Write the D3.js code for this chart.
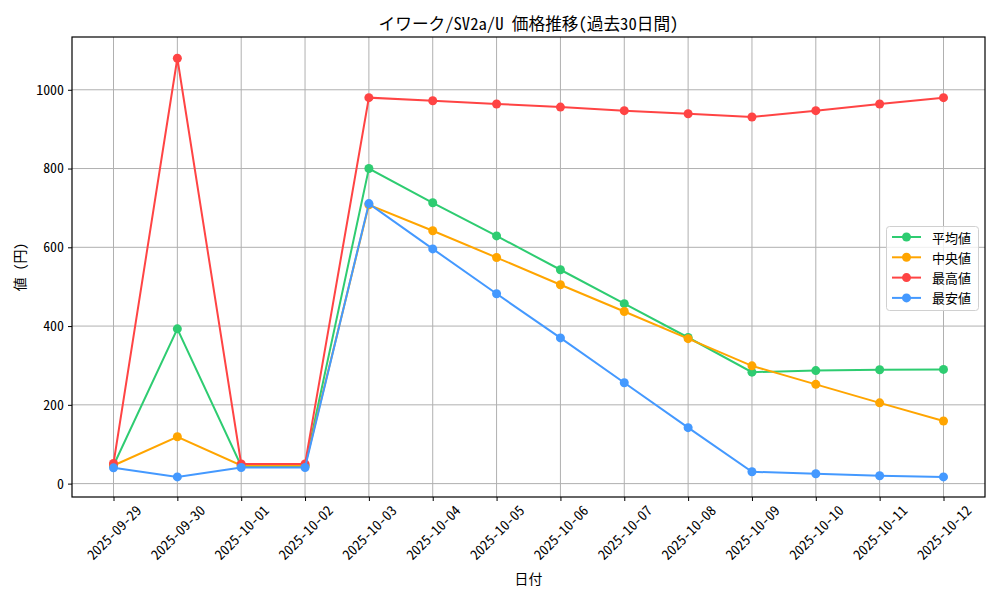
<!DOCTYPE html>
<html><head><meta charset="utf-8">
<script src="https://cdn.jsdelivr.net/npm/d3@7"></script>
<style>body{margin:0;background:#fff}svg{display:block}text{font-family:"Noto Sans Mono CJK JP","Noto Sans CJK JP","DejaVu Sans",sans-serif;fill:#000}</style>
</head><body><svg id="c" width="1000" height="600"></svg>
<script>
const dates = ["2025-09-29","2025-09-30","2025-10-01","2025-10-02","2025-10-03","2025-10-04","2025-10-05","2025-10-06","2025-10-07","2025-10-08","2025-10-09","2025-10-10","2025-10-11","2025-10-12"];
const avgValues = [46, 393, 45, 45, 800, 713, 629, 543, 457, 371, 283, 287, 289, 290];
const medianValues = [46, 119, 46, 46, 708, 642, 574, 505, 437, 368, 299, 252, 205, 159];
const maxValues = [51, 1080, 50, 50, 980, 972, 964, 956, 947, 939, 931, 947, 964, 980];
const minValues = [40, 17, 41, 41, 711, 596, 482, 370, 256, 142, 30, 25, 20, 17];
const seriesNames = ["平均値","中央値","最高値","最安値"];
const seriesColors = ["#2ecc71","#ffa500","#ff4444","#4499ff"];
const yTicks = [0,200,400,600,800,1000];
const title = "イワーク/SV2a/U 価格推移(過去30日間)";
const xLabel = "日付";
const yLabel = "値 (円)";

const series = [avgValues, medianValues, maxValues, minValues].map((v,i)=>({name:seriesNames[i], color:seriesColors[i], values:v}));

const L=72, R=985, T=37, B=497;
const svg = d3.select("#c");
const x = d3.scalePoint().domain(dates).range([L+41.5, R-41.5]);
const y = d3.scaleLinear().domain([-34, 1134]).range([B, T]);

// grid
const g = svg.append("g");
g.selectAll(".gx").data(dates).enter().append("line")
  .attr("x1",d=>x(d)).attr("x2",d=>x(d)).attr("y1",T).attr("y2",B)
  .attr("stroke","#b0b0b0").attr("stroke-width",1);
g.selectAll(".gy").data(yTicks).enter().append("line")
  .attr("x1",L).attr("x2",R).attr("y1",d=>y(d)).attr("y2",d=>y(d))
  .attr("stroke","#b0b0b0").attr("stroke-width",1);

// lines
const line = d3.line().x((d,i)=>x(dates[i])).y(d=>y(d));
series.forEach(s=>{
  svg.append("path").attr("d",line(s.values)).attr("fill","none")
    .attr("stroke",s.color).attr("stroke-width",2);
  svg.append("g").selectAll("circle").data(s.values).enter().append("circle")
    .attr("cx",(d,i)=>x(dates[i])).attr("cy",d=>y(d)).attr("r",4.5).attr("fill",s.color);
});

// frame
svg.append("rect").attr("x",L).attr("y",T).attr("width",R-L).attr("height",B-T)
  .attr("fill","none").attr("stroke","#000").attr("stroke-width",1.2);

// y axis
const ya = svg.append("g").attr("transform",`translate(${L},0)`)
  .call(d3.axisLeft(y).tickValues(yTicks).tickSize(4).tickPadding(4).tickFormat(d3.format("d")));
ya.select(".domain").remove();
ya.selectAll("text").style("font-size","13.9px").style("font-family",null);
ya.selectAll("line").attr("stroke","#000");

// x axis
const xa = svg.append("g").attr("transform",`translate(0,${B})`)
  .call(d3.axisBottom(x).tickSize(4).tickFormat(""));
xa.select(".domain").remove();
xa.selectAll("line").attr("stroke","#000");
svg.append("g").selectAll("text").data(dates).enter().append("text")
  .attr("transform",d=>`translate(${x(d)},532) rotate(-45)`)
  .attr("text-anchor","middle").attr("dominant-baseline","central")
  .style("font-size","13.9px")
  .text(d=>d);

// title & labels
svg.append("text").attr("x",(L+R)/2).attr("y",23).attr("text-anchor","middle")
  .attr("dominant-baseline","central").style("font-size","16.67px").text(title);
svg.append("text").attr("x",(L+R)/2).attr("y",578).attr("text-anchor","middle")
  .attr("dominant-baseline","central").style("font-size","13.9px").text(xLabel);
svg.append("text").attr("transform",`translate(19,${(T+B)/2}) rotate(-90)`).attr("text-anchor","middle")
  .attr("dominant-baseline","central").style("font-size","13.9px").text(yLabel);

// legend
const lg = svg.append("g");
lg.append("rect").attr("x",886.5).attr("y",226.5).attr("width",92).attr("height",84).attr("rx",3)
  .attr("fill","#fff").attr("fill-opacity",0.8).attr("stroke","#d0d0d0");
series.forEach((s,i)=>{
  const yy = 237 + i*20.3;
  lg.append("line").attr("x1",892).attr("x2",921).attr("y1",yy).attr("y2",yy).attr("stroke",s.color).attr("stroke-width",2);
  lg.append("circle").attr("cx",906.5).attr("cy",yy).attr("r",4.5).attr("fill",s.color);
  lg.append("text").attr("x",932).attr("y",yy).attr("dominant-baseline","central").style("font-size","13px").text(s.name);
});
</script></body></html>
